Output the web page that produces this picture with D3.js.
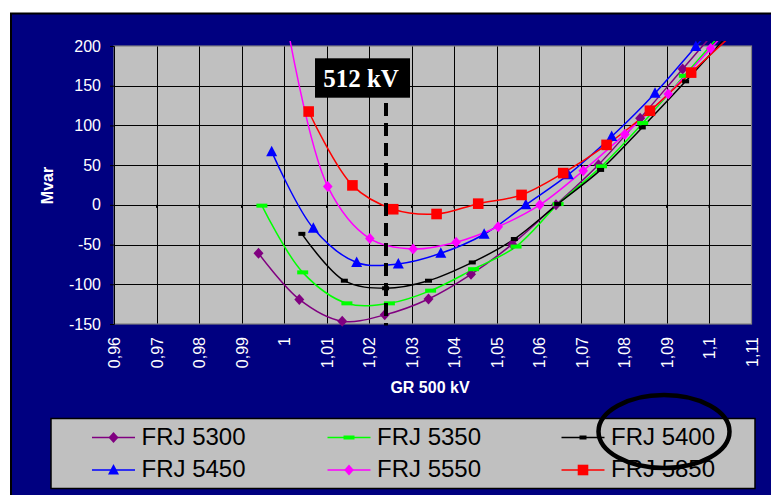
<!DOCTYPE html>
<html>
<head>
<meta charset="utf-8">
<script src="https://cdn.jsdelivr.net/npm/d3@7/dist/d3.min.js"></script>
<style>
  html, body { margin: 0; padding: 0; background: #ffffff; }
  svg { display: block; font-family: "Liberation Sans", Arial, sans-serif; }
</style>
</head>
<body>
<svg id="chart" width="771" height="495"></svg>
<script>
// ---- data ----
const seriesNames = ["FRJ 5300", "FRJ 5350", "FRJ 5400", "FRJ 5450", "FRJ 5550", "FRJ 5850"];

const gr5300   = [0.994, 1.0036, 1.0137, 1.0237, 1.034, 1.044, 1.0537, 1.064, 1.074, 1.0838, 1.0938, 1.104];
const mvar5300 = [-61, -119, -146.5, -138.5, -118.5, -87.5, -49.5, 0, 50.5, 109, 171, 234];

const gr5350   = [0.9948, 1.0044, 1.0148, 1.0248, 1.0345, 1.0446, 1.0546, 1.0645, 1.0747, 1.0844, 1.0942, 1.1042];
const mvar5350 = [-1, -85, -124, -124, -108, -81, -52.5, 1, 48.5, 103, 162.5, 224];

const gr5400   = [1.0042, 1.0142, 1.0239, 1.034, 1.0443, 1.0542, 1.0644, 1.0745, 1.0843, 1.0945, 1.1045];
const mvar5400 = [-36.5, -95.5, -105, -95.5, -72.5, -43, 1, 44, 97.5, 155.5, 214];

const gr5450   = [0.9971, 1.0069, 1.0171, 1.0269, 1.0369, 1.0471, 1.0569, 1.0669, 1.0771, 1.0873, 1.0969, 1.1069];
const mvar5450 = [67, -29.5, -72.5, -74.5, -61, -37, 0, 38, 86, 140.5, 199.5, 260];

const gr5550   = [1.0003, 1.0103, 1.0202, 1.0304, 1.0405, 1.0504, 1.0602, 1.0704, 1.0802, 1.0904, 1.1004, 1.1104];
const mvar5550 = [240, 23, -42.5, -55.5, -47, -27.5, 0, 43, 89, 139.5, 197, 255];

const gr5850   = [1.0058, 1.0161, 1.0257, 1.0359, 1.0457, 1.0559, 1.0657, 1.0759, 1.0861, 1.0958, 1.1058];
const mvar5850 = [117.5, 24.5, -5.5, -11.5, 1.5, 12.5, 40, 75.5, 118.5, 166.5, 216];

const xTickValues = [0.96, 0.97, 0.98, 0.99, 1.00, 1.01, 1.02, 1.03, 1.04, 1.05, 1.06, 1.07, 1.08, 1.09, 1.10, 1.11];
const xTickLabels = ["0,96", "0,97", "0,98", "0,99", "1", "1,01", "1,02", "1,03", "1,04", "1,05", "1,06", "1,07", "1,08", "1,09", "1,1", "1,11"];
const yTickValues = [-150, -100, -50, 0, 50, 100, 150, 200];

const markerVoltage = 1.024;      // GR voltage of the marked operating point
const markerLabel = "512 kV";

// ---- series styling ----
const seriesStyle = [
  { color: "#800080", shape: "diamond" },
  { color: "#00ff00", shape: "dash" },
  { color: "#000000", shape: "smalldash" },
  { color: "#0000ff", shape: "triangle" },
  { color: "#ff00ff", shape: "diamond2" },
  { color: "#ff0000", shape: "square" }
];

const seriesData = [
  [gr5300, mvar5300], [gr5350, mvar5350], [gr5400, mvar5400],
  [gr5450, mvar5450], [gr5550, mvar5550], [gr5850, mvar5850]
].map(([xs, ys], i) => ({
  name: seriesNames[i],
  points: xs.map((x, j) => ({ x, y: ys[j] })),
  ...seriesStyle[i]
}));

// ---- layout ----
const svg = d3.select("#chart");
const plot = { left: 114, right: 751.5, top: 46, bottom: 324 };

const x = d3.scaleLinear().domain([0.96, 1.11]).range([plot.left, plot.right]);
const y = d3.scaleLinear().domain([-150, 200]).range([plot.bottom, plot.top]);

// outer chart frame
svg.append("rect")
  .attr("x", 11).attr("y", 13.5).attr("width", 800).attr("height", 520)
  .attr("fill", "#000080").attr("stroke", "#000000").attr("stroke-width", 2);

// plot area
svg.append("rect")
  .attr("x", plot.left).attr("y", plot.top)
  .attr("width", plot.right - plot.left).attr("height", plot.bottom - plot.top)
  .attr("fill", "#c0c0c0");

// gridlines
const grid = svg.append("g").attr("stroke", "#000000").attr("stroke-width", 1).attr("shape-rendering", "crispEdges");
grid.selectAll("line.v").data(xTickValues.slice(1, -1)).join("line")
  .attr("x1", d => Math.round(x(d)) + 0.5).attr("x2", d => Math.round(x(d)) + 0.5)
  .attr("y1", plot.top).attr("y2", plot.bottom);
grid.selectAll("line.h").data(yTickValues.slice(1, -1)).join("line")
  .attr("y1", d => Math.round(y(d)) + 0.5).attr("y2", d => Math.round(y(d)) + 0.5)
  .attr("x1", plot.left).attr("x2", plot.right);

// plot border
svg.append("rect")
  .attr("x", plot.left).attr("y", plot.top)
  .attr("width", plot.right - plot.left).attr("height", plot.bottom - plot.top)
  .attr("fill", "none").attr("stroke", "#808080").attr("stroke-width", 1.2);

// tick marks on the horizontal axis line at Mvar = 0
svg.append("g").selectAll("line").data(xTickValues.slice(1, -1)).join("line")
  .attr("x1", d => x(d)).attr("x2", d => x(d))
  .attr("y1", y(0)).attr("y2", y(0) + 3)
  .attr("stroke", "#000000").attr("stroke-width", 1);

// y axis
const yAxis = svg.append("g")
  .attr("transform", `translate(${plot.left},0)`)
  .call(d3.axisLeft(y).tickValues(yTickValues).tickSize(4).tickPadding(9).tickFormat(d => String(d)));
yAxis.select(".domain").attr("stroke", "#000000");
yAxis.selectAll(".tick line").attr("stroke", "#000000");
yAxis.selectAll(".tick text")
  .attr("fill", "#ffffff").attr("font-size", 16)
  .style("font-family", "'Liberation Sans', Arial, sans-serif");

// x axis (labels only, rotated)
const xAxis = svg.append("g")
  .attr("transform", `translate(0,${plot.bottom})`)
  .call(d3.axisBottom(x).tickValues(xTickValues).tickSize(0)
    .tickFormat((d, i) => xTickLabels[i]));
xAxis.select(".domain").remove();
xAxis.selectAll(".tick text")
  .attr("fill", "#ffffff").attr("font-size", 16)
  .style("font-family", "'Liberation Sans', Arial, sans-serif")
  .attr("transform", "rotate(-90)")
  .attr("x", -13).attr("y", 0).attr("dy", "0.36em")
  .attr("text-anchor", "end");

// axis titles
svg.append("text")
  .attr("x", 430).attr("y", 393)
  .attr("text-anchor", "middle")
  .attr("font-size", 16).attr("font-weight", "bold").attr("fill", "#ffffff")
  .text("GR 500 kV");
svg.append("text")
  .attr("transform", "translate(52.5,185.5) rotate(-90)")
  .attr("text-anchor", "middle")
  .attr("font-size", 16).attr("font-weight", "bold").attr("fill", "#ffffff")
  .text("Mvar");

// series lines (clipped just outside the plot top)
svg.append("clipPath").attr("id", "plotClip")
  .append("rect")
  .attr("x", plot.left).attr("y", plot.top - 5)
  .attr("width", plot.right - plot.left).attr("height", plot.bottom - plot.top + 5);

const line = d3.line()
  .x(d => x(d.x)).y(d => y(d.y))
  .curve(d3.curveCatmullRom.alpha(0.5));

const linesG = svg.append("g").attr("clip-path", "url(#plotClip)");
linesG.selectAll("path").data(seriesData).join("path")
  .attr("d", d => line(d.points))
  .attr("fill", "none")
  .attr("stroke", d => d.color)
  .attr("stroke-width", 1.5);

// marker shapes
function drawMarker(g, shape, color) {
  switch (shape) {
    case "diamond":
      g.append("path").attr("d", "M0,-5.5L5,0L0,5.5L-5,0Z").attr("fill", color);
      break;
    case "diamond2":
      g.append("path").attr("d", "M0,-5.5L4.8,0L0,5.5L-4.8,0Z").attr("fill", color);
      break;
    case "dash":
      g.append("rect").attr("x", -5.5).attr("y", -2).attr("width", 11).attr("height", 4).attr("fill", color);
      break;
    case "smalldash":
      g.append("rect").attr("x", -3.5).attr("y", -2).attr("width", 7).attr("height", 4).attr("fill", color);
      break;
    case "triangle":
      g.append("path").attr("d", "M0,-6L5.5,4.5L-5.5,4.5Z").attr("fill", color);
      break;
    case "square":
      g.append("rect").attr("x", -5.3).attr("y", -5.3).attr("width", 10.6).attr("height", 10.6).attr("fill", color);
      break;
  }
}

seriesData.forEach(s => {
  const g = svg.append("g");
  s.points.filter(p => p.y <= 200 && p.x <= 1.11).forEach(p => {
    const m = g.append("g").attr("transform", `translate(${x(p.x)},${y(p.y)})`);
    drawMarker(m, s.shape, s.color);
  });
});

// marked operating voltage
svg.append("line")
  .attr("x1", x(markerVoltage)).attr("x2", x(markerVoltage))
  .attr("y1", 103).attr("y2", plot.bottom + 1.5)
  .attr("stroke", "#000000").attr("stroke-width", 4)
  .attr("stroke-dasharray", "13,7");

const labelG = svg.append("g").attr("transform", `translate(${x(markerVoltage) - 23.5},78)`);
labelG.append("rect")
  .attr("x", -47.5).attr("y", -19.7).attr("width", 95).attr("height", 39.4)
  .attr("fill", "#000000");
labelG.append("text")
  .attr("x", -1.5).attr("y", 9)
  .attr("text-anchor", "middle")
  .style("font-family", "'Liberation Serif', 'Times New Roman', serif")
  .attr("font-size", 25).attr("font-weight", "bold").attr("fill", "#ffffff")
  .text(markerLabel);

// legend
const legend = svg.append("g");
legend.append("rect")
  .attr("x", 51).attr("y", 418.5).attr("width", 704).attr("height", 70)
  .attr("fill", "#c0c0c0").attr("stroke", "#000000").attr("stroke-width", 1.5);

const colX = [92, 327.5, 561.5];
const rowY = [437.5, 470];
seriesData.forEach((s, i) => {
  const cx = colX[i % 3], cy = rowY[Math.floor(i / 3)];
  const e = legend.append("g");
  e.append("line")
    .attr("x1", cx).attr("x2", cx + 43).attr("y1", cy).attr("y2", cy)
    .attr("stroke", s.color).attr("stroke-width", 1.5);
  const m = e.append("g").attr("transform", `translate(${cx + 21.5},${cy})`);
  drawMarker(m, s.shape, s.color);
  e.append("text")
    .attr("x", cx + 49.5).attr("y", cy + 7)
    .attr("font-size", 24).attr("fill", "#000000")
    .text(s.name);
});

// highlight ring around one legend entry
svg.append("ellipse")
  .attr("cx", 664).attr("cy", 431.5).attr("rx", 65.5).attr("ry", 36.5)
  .attr("fill", "none").attr("stroke", "#000000").attr("stroke-width", 4.5);
</script>
</body>
</html>
